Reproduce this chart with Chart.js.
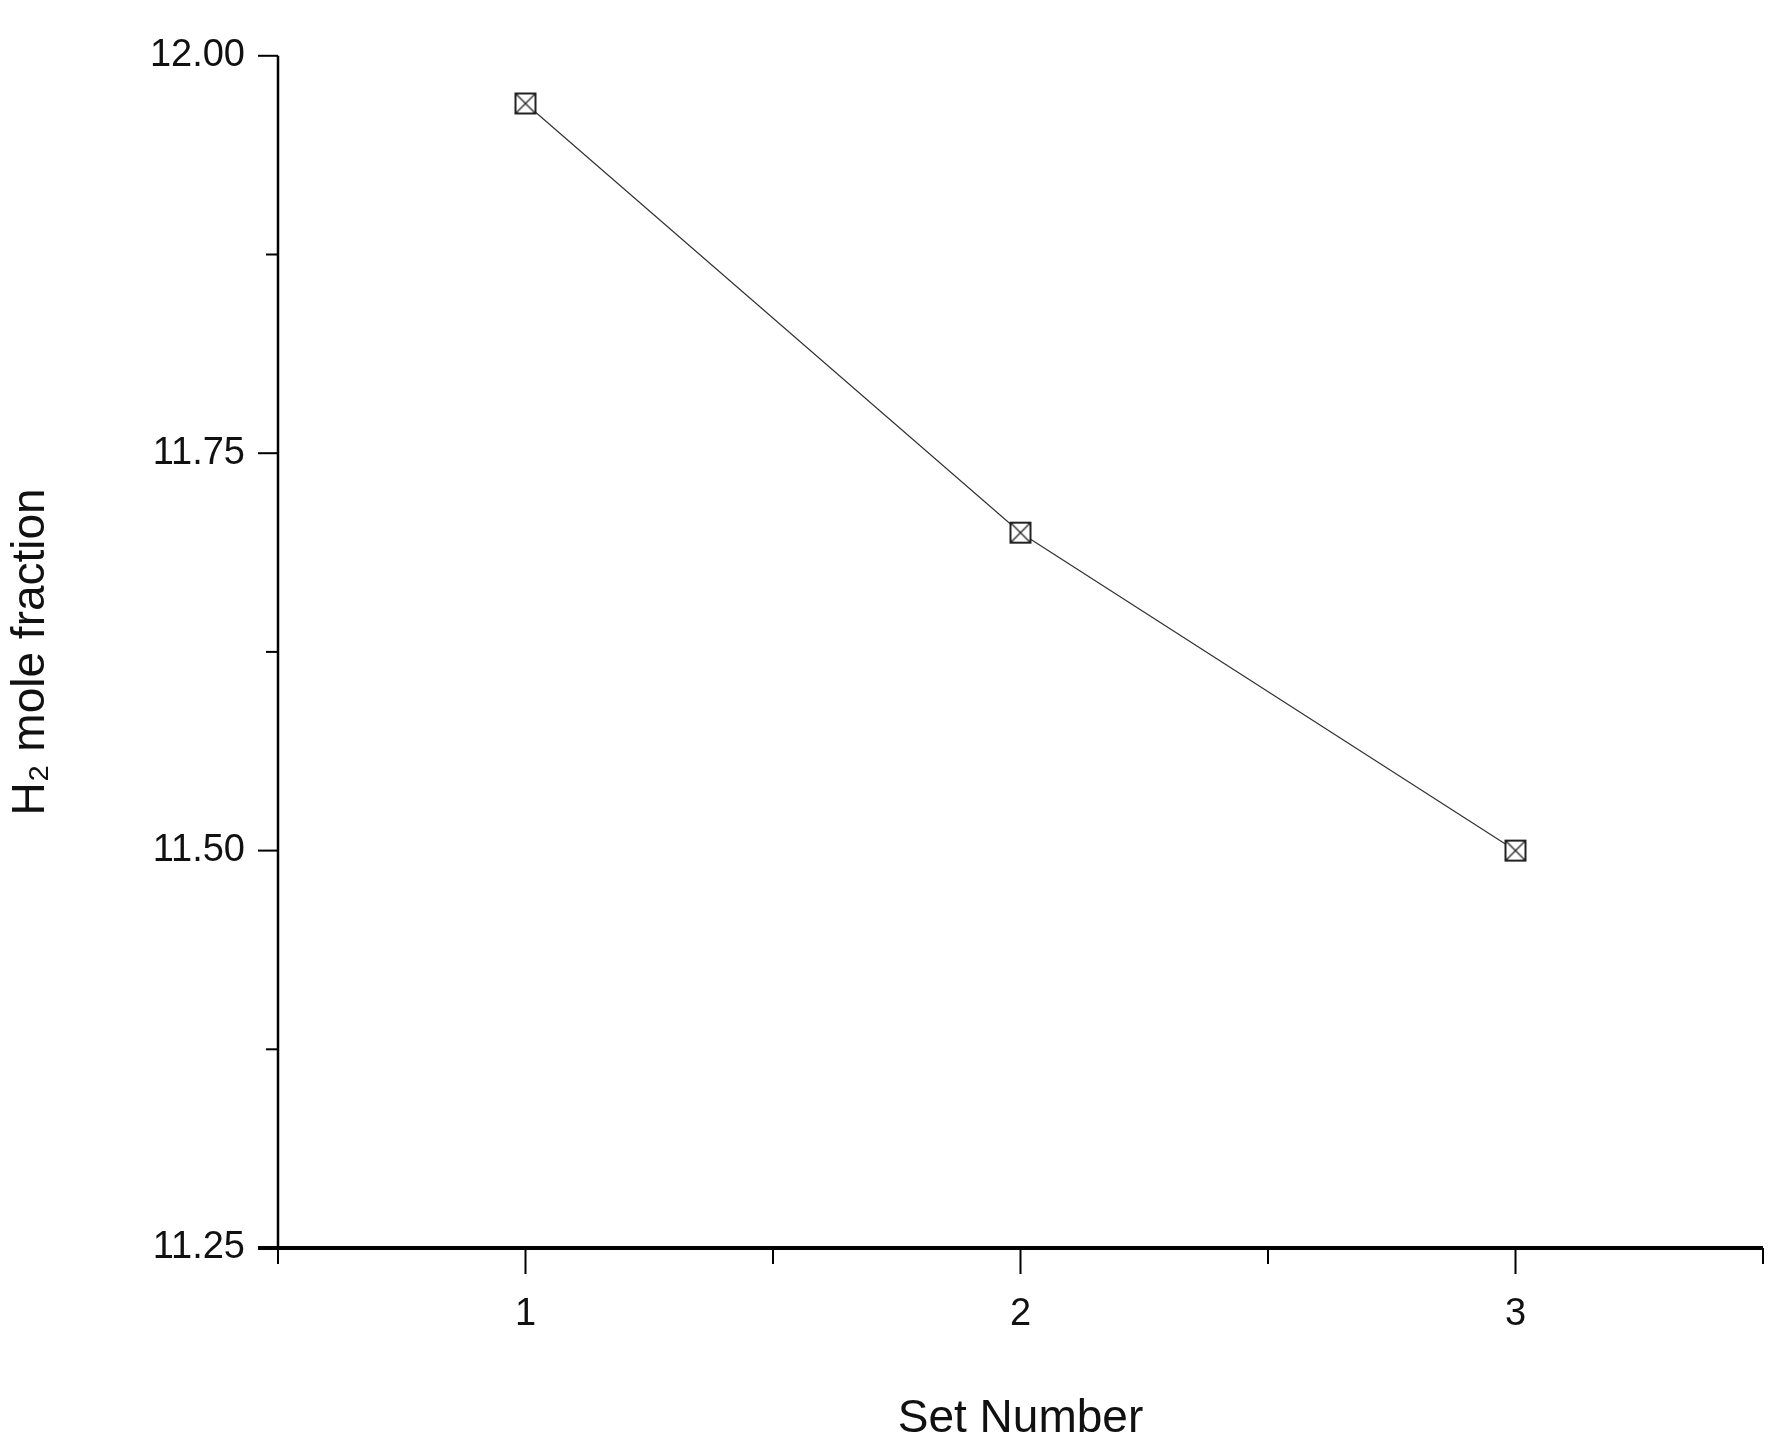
<!DOCTYPE html>
<html><head><meta charset="utf-8">
<script src="https://cdn.jsdelivr.net/npm/chart.js@4"></script>
<style>html,body{margin:0;background:#fff}</style></head>
<body><canvas id="c" width="1786" height="1451"></canvas>
<script>
const setNumbers = [1, 2, 3];
const h2Fraction = [11.97, 11.70, 11.50];
const yTicks = [11.25, 11.50, 11.75, 12.00];
const xTicks = [1, 2, 3];

const mk = document.createElement('canvas');
mk.width = 24; mk.height = 24;
const m = mk.getContext('2d');
m.fillStyle = '#fff'; m.fillRect(1,1,22,22);
m.strokeStyle = '#222'; m.lineWidth = 2; m.strokeRect(2,2,20,20);
m.lineWidth = 1.3; m.beginPath(); m.moveTo(3,3); m.lineTo(21,21); m.moveTo(21,3); m.lineTo(3,21); m.stroke();

const tickPlugin = {
  id: 'ticks',
  afterDraw(chart) {
    const ctx = chart.ctx, x = chart.scales.x, y = chart.scales.y;
    const ax = chart.chartArea.left, ay = chart.chartArea.bottom;
    ctx.save(); ctx.strokeStyle = '#000';
    ctx.lineWidth = 2.5; ctx.beginPath(); ctx.moveTo(ax, chart.chartArea.top); ctx.lineTo(ax, ay); ctx.stroke();
    ctx.lineWidth = 4; ctx.beginPath(); ctx.moveTo(ax - 20, ay); ctx.lineTo(chart.chartArea.right, ay); ctx.stroke();
    ctx.lineWidth = 2;
    for (let v = 11.25; v <= 12.0001; v += 0.125) {
      const p = y.getPixelForValue(v), major = Math.abs((v * 4) % 1) < 1e-6;
      ctx.beginPath(); ctx.moveTo(ax, p); ctx.lineTo(ax - (major ? 20 : 0), p); ctx.stroke();
      if (!major) { ctx.beginPath(); ctx.moveTo(ax, p); ctx.lineTo(ax - 12, p); ctx.stroke(); }
    }
    for (let v = 0.5; v <= 3.5001; v += 0.5) {
      const p = x.getPixelForValue(v), major = Math.abs(v % 1) < 1e-6;
      ctx.beginPath(); ctx.moveTo(p, ay); ctx.lineTo(p, ay + (major ? 26 : 16)); ctx.stroke();
    }
    ctx.restore();
  }
};

new Chart(document.getElementById('c'), {
  type: 'line',
  data: { datasets: [{
    data: setNumbers.map((s, i) => ({ x: s, y: h2Fraction[i] })),
    borderColor: '#333', borderWidth: 1.2, pointStyle: mk, tension: 0
  }]},
  options: {
    responsive: false, animation: false,
    layout: { padding: { top: 52, right: 23, left: 0, bottom: 0 } },
    plugins: { legend: { display: false }, tooltip: { enabled: false } },
    scales: {
      x: { type: 'linear', min: 0.5, max: 3.5,
        afterBuildTicks: s => { s.ticks = xTicks.map(v => ({ value: v })); },
        afterFit: s => { s.height = 203; },
        grid: { display: false, drawTicks: false }, border: { display: false },
        ticks: { padding: 44, color: '#111', font: { family: 'Liberation Sans', size: 38 }, callback: v => String(v) },
        title: { display: true, text: 'Set Number', color: '#111', padding: { top: 40 }, font: { family: 'Liberation Sans', size: 46 } } },
      y: { min: 11.25, max: 12.0,
        afterBuildTicks: s => { s.ticks = yTicks.map(v => ({ value: v })); },
        afterFit: s => { s.width = 278; },
        grid: { display: false, drawTicks: false }, border: { display: false },
        ticks: { padding: 33, color: '#111', font: { family: 'Liberation Sans', size: 38 }, callback: v => v.toFixed(2) },
        title: { display: true, text: 'H₂ mole fraction', color: '#111', padding: { bottom: 10 }, font: { family: 'Liberation Sans', size: 46 } } }
    }
  },
  plugins: [tickPlugin]
});
</script></body></html>
